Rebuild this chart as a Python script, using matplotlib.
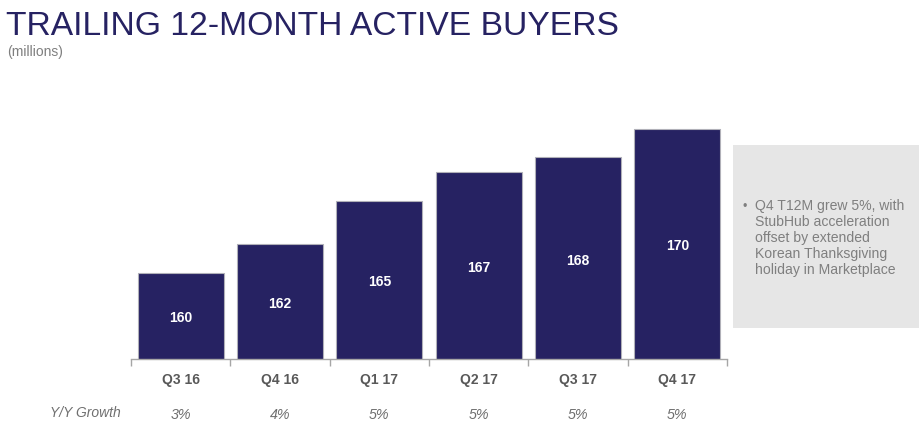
import matplotlib
matplotlib.use("Agg")
import matplotlib.pyplot as plt
from matplotlib.patches import Rectangle

categories = ["Q3 16", "Q4 16", "Q1 17", "Q2 17", "Q3 17", "Q4 17"]
buyers = [160, 162, 165, 167, 168, 170]
growth = ["3%", "4%", "5%", "5%", "5%", "5%"]
note = ("Q4 T12M grew 5%, with\nStubHub acceleration\noffset by extended\n"
        "Korean Thanksgiving\nholiday in Marketplace")

plt.rcParams['font.family'] = ['Liberation Sans', 'DejaVu Sans']

W, H = 920, 427
fig = plt.figure(figsize=(W / 100, H / 100), dpi=100)
navy = "#262262"
gray = "#7f7f7f"

def fx(px):
    return px / W

def fy(py):
    return 1 - py / H

ax = fig.add_axes([fx(131), fy(360), fx(727) - fx(131), fy(100) - fy(360)])
x = list(range(len(categories)))
ax.bar(x, buyers, width=0.865, color=navy, edgecolor="#b0b0b8", linewidth=0.8)
ax.set_ylim(154, 172.06)
ax.set_xlim(-0.5, len(categories) - 0.5)
for xi, v in zip(x, buyers):
    ax.text(xi, (154 + v) / 2 - 0.1, str(v), ha="center", va="center", color="white",
            fontsize=10, fontweight="bold")
for s in ["top", "right", "left"]:
    ax.spines[s].set_visible(False)
ax.spines["bottom"].set_color("#a6a6a6")
ax.spines["bottom"].set_linewidth(1.0)
ax.set_yticks([])
ax.set_xticks([i - 0.5 for i in range(len(categories) + 1)])
ax.set_xticklabels([])
ax.tick_params(axis="x", length=5, color="#a6a6a6", width=1.0, direction="out")
for xi, c in zip(x, categories):
    ax.text(xi, -0.077, c, transform=ax.get_xaxis_transform(), ha="center", va="center",
            color="#595959", fontsize=10, fontweight="bold")
for xi, g in zip(x, growth):
    ax.text(xi, -0.212, g, transform=ax.get_xaxis_transform(), ha="center", va="center",
            color="#6f6f6f", fontsize=10.3, style="italic")
fig.text(fx(85), fy(413), "Y/Y Growth", ha="center", va="center", color="#6f6f6f",
         fontsize=10, style="italic")

fig.text(fx(6), fy(35), "TRAILING 12-MONTH ACTIVE BUYERS", ha="left", va="baseline",
         color=navy, fontsize=24.2)
fig.text(fx(7), fy(52), "(millions)", ha="left", va="center", color=gray, fontsize=10)

fig.patches.append(Rectangle((fx(733), fy(329)), fx(920) - fx(733), fy(146) - fy(329),
                             transform=fig.transFigure, facecolor="#e6e6e6",
                             edgecolor="none", zorder=0))
fig.text(fx(743), fy(207), "\u2022", ha="left", va="center", color=gray, fontsize=9)
fig.text(fx(755), fy(238), note, ha="left", va="center", color=gray, fontsize=10.1,
         linespacing=1.17)

fig.savefig("out.png", dpi=100)
